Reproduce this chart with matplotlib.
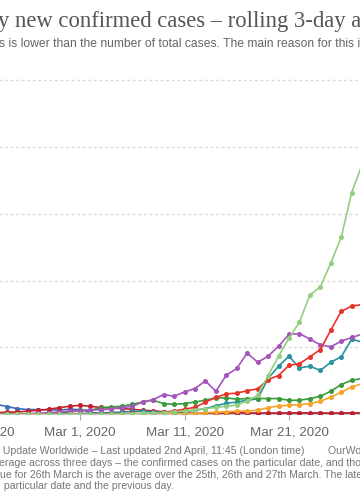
import matplotlib
matplotlib.use("Agg")
import matplotlib.pyplot as plt
import pandas as pd

# daily dates shown in the crop (Feb 22 .. Mar 28, 2020)
dates = pd.date_range("2020-02-22", "2020-03-28", freq="D")

# rolling 3-day average of daily new confirmed cases
united_states = [0, 0, 0, 0, 0, 0, 0, 0, 0, 0, 5, 10, 20, 40, 60, 90, 120, 180,
                 250, 330, 420, 520, 600, 690, 1000, 1430, 2900, 4350, 5700, 6900,
                 8930, 9530, 11330, 13250, 16600, 18700]
spain = [0, 0, 0, 0, 0, 0, 0, 0, 10, 20, 30, 40, 50, 60, 40, 75, 150, 260,
         375, 525, 900, 1275, 1520, 1590, 1760, 1910, 2600, 2900, 3660, 3790,
         4300, 4850, 6300, 7710, 8100, 8210]
italy = [5, 10, 20, 40, 80, 120, 170, 230, 280, 320, 340, 400, 500, 600, 920,
         1100, 1480, 1350, 1670, 1930, 2500, 1720, 2930, 3430, 4580, 3900, 4340,
         5100, 5980, 6040, 5630, 5200, 5050, 5480, 5750, 6000]
germany = [0, 0, 0, 0, 0, 5, 15, 30, 50, 80, 100, 130, 170, 225, 225, 175, 175,
           175, 225, 300, 430, 640, 825, 915, 1050, 1160, 2680, 3600, 4350, 3470,
           3600, 3280, 3900, 4300, 5630, 5400]
iran = [5, 10, 10, 15, 20, 50, 100, 170, 300, 300, 500, 550, 600, 750, 920, 1050,
        800, 750, 800, 920, 1050, 1230, 1230, 1130, 1180, 1180, 1180, 1180, 1050,
        1050, 1180, 1350, 1730, 2230, 2550, 2680]
united_kingdom = [0, 0, 0, 0, 0, 0, 0, 0, 0, 0, 0, 0, 10, 15, 20, 30, 40, 50, 60,
                  80, 120, 150, 190, 225, 250, 300, 500, 620, 680, 730, 800, 980,
                  1280, 1650, 2050, 2290]
south_korea = [110, 165, 170, 240, 300, 375, 500, 600, 675, 600, 510, 470, 430,
               375, 300, 260, 190, 150, 110, 100, 90, 95, 100, 110, 100, 95, 100,
               90, 100, 110, 105, 100, 95, 100, 110, 100]
china = [750, 580, 430, 350, 350, 340, 320, 375, 350, 150, 50, 60, 40, 35, 30, 25,
         20, 15, 15, 15, 15, 20, 20, 25, 30, 40, 50, 60, 70, 60, 50, 60, 70, 60,
         50, 50]

series = [
    (china, "#3c6cb4"),
    (south_korea, "#c4212d"),
    (united_kingdom, "#f6a42b"),
    (germany, "#2a929f"),
    (iran, "#3a9b3c"),
    (italy, "#a555bb"),
    (spain, "#e8332b"),
    (united_states, "#92cf7f"),
]

tick_dates = pd.to_datetime(["2020-02-20", "2020-03-01", "2020-03-11", "2020-03-21", "2020-03-31"])
tick_labels = ["Feb 20, 2020", "Mar 1, 2020", "Mar 11, 2020", "Mar 21, 2020", "Mar 31, 2020"]
grid_values = [5000, 10000, 15000, 20000, 25000]

W, H = 360, 504
fig = plt.figure(figsize=(W / 100, H / 100), dpi=100)

# pixel geometry of the cropped chart
px_per_day = 10.45
x_mar1 = 80.0
ax_left_px = -70.0
y_zero_px = 414.3
y_top_px = 75.0
val_per_px = 74.85

ax = fig.add_axes([ax_left_px / W, 1 - y_zero_px / H,
                   (W - ax_left_px) / W, (y_zero_px - y_top_px) / H])
ax.set_facecolor("none")

for gv in grid_values:
    ax.axhline(gv, color="#d9d9d9", lw=1, ls=(0, (2, 2)), zorder=0)

for values, color in series:
    ax.plot(dates, values, color=color, lw=1.2, marker="o", ms=2.6,
            mec=color, mfc=color, zorder=3)

ax.set_xticks(tick_dates)
ax.set_xticklabels(tick_labels, fontsize=9.6, color="#666666", family="Liberation Sans")
ax.tick_params(axis="x", length=4, color="#aaaaaa", pad=5)
ax.set_yticks([])
for side in ["top", "left", "right"]:
    ax.spines[side].set_visible(False)
ax.spines["bottom"].set_color("#cccccc")

# limits last, so the ticks do not widen the view
mar1 = pd.Timestamp("2020-03-01")
ax.set_xlim(mar1 + pd.Timedelta(days=(ax_left_px - x_mar1) / px_per_day),
            mar1 + pd.Timedelta(days=(W - x_mar1) / px_per_day))
ax.set_ylim(0, (y_zero_px - y_top_px) * val_per_px)

# title and subtitle (cropped on both sides, like the reference)
fig.text(-2 / W, 1 - 27.5 / H, "y new confirmed cases – rolling 3-day average",
         fontsize=16.3, family="Liberation Serif", color="#555555", va="baseline")
fig.text(-1 / W, 1 - 46.5 / H,
         "s is lower than the number of total cases. The main reason for this is limited testing.",
         fontsize=8.75, family="Liberation Sans", color="#666666", va="baseline")

# footer
foot = dict(fontsize=7.6, family="Liberation Sans", color="#777777", va="baseline")
fig.text(0 / W, 1 - 454 / H,
         " Update Worldwide – Last updated 2nd April, 11:45 (London time)", **foot)
fig.text(328 / W, 1 - 454 / H, "OurWorldInData.org/coronavirus • CC BY", **foot)
fig.text(-1 / W, 1 - 466 / H,
         "erage across three days – the confirmed cases on the particular date, and those on the dates before and after.",
         **foot)
fig.text(-0.5 / W, 1 - 477.5 / H,
         "ue for 26th March is the average over the 25th, 26th and 27th March. The latest value is the average of the",
         **foot)
fig.text(1 / W, 1 - 489 / H, " particular date and the previous day.", **foot)

fig.savefig("out.png", dpi=100, facecolor="white")
